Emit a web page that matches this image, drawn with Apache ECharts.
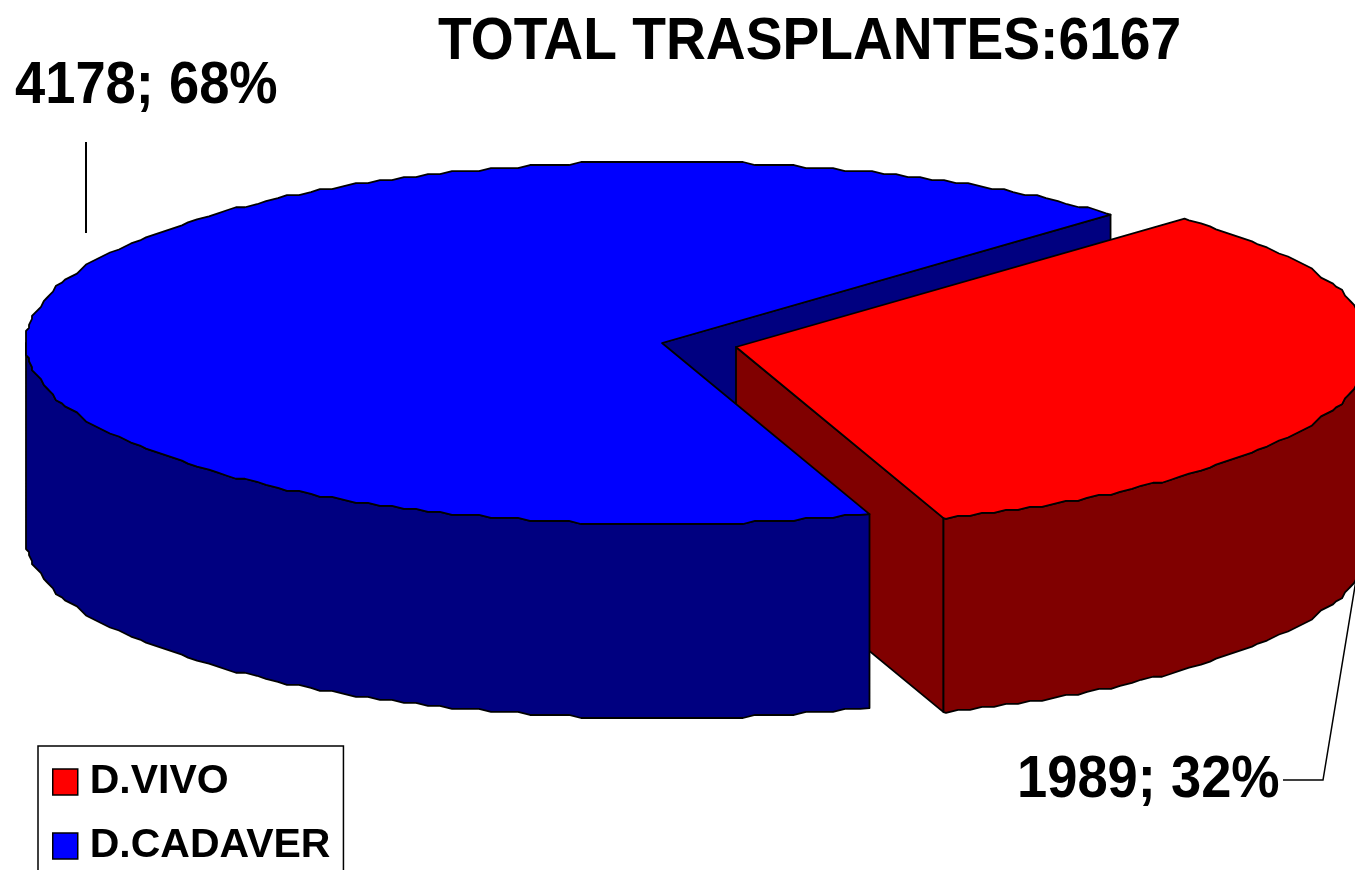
<!DOCTYPE html>
<html>
<head>
<meta charset="utf-8">
<style>html,body{margin:0;padding:0;background:#fff;overflow:hidden}#c{width:1355px;height:870px}</style>
<script src="https://cdn.jsdelivr.net/npm/echarts@6/dist/echarts.min.js"></script>
</head>
<body>
<div id="c"></div>
<script>
// ---- data ----
const categories = ['D.VIVO', 'D.CADAVER'];
const values = [1989, 4178];
const titlePrefix = 'TOTAL TRASPLANTES:';

// ---- pie styling and layout ----
const topColors = ['#ff0000', '#0000ff'];
const sideColors = ['#800000', '#000080'];
const centers = [[736, 347], [662, 343]];
const RX = 636, RY = 181, DEPTH = 194, START = 45.15;
const FONT = 'bold 60px "Liberation Sans", Arial, sans-serif';
const labelPos = [[1017, 780], [15, 86]];
const leaders = [
  [[1283, 780], [1323, 780], [1356, 580]],
  [[86, 142], [86, 233]]
];
const leaderWidths = [1.5, 2];

const total = values.reduce((a, b) => a + b, 0);
const rad = d => d * Math.PI / 180;

// slice angles, clockwise from START
function sliceAngles(i) {
  let a = START;
  for (let k = 0; k < i; k++) a -= values[k] / total * 360;
  return [a, a - values[i] / total * 360];
}
const pt = (c, deg) => [c[0] + RX * Math.cos(rad(deg)), c[1] - RY * Math.sin(rad(deg))];

// clockwise arc from > to, stepped like the low resolution original;
// inner points sit on a shared angle grid so the wall and the top face agree
function arc(c, from, to, dy) {
  const STEP = 1.2, GX = RX / 212, GY = RY / 60;
  const out = [];
  const add = p => out.push([p[0], p[1] + dy]);
  add(pt(c, from));
  for (let k = Math.floor(from / STEP); k * STEP > to; k--) {
    const a = k * STEP;
    if (a >= from) continue;
    const p = pt(c, a);
    add([Math.round((p[0] - c[0]) / GX) * GX + c[0], Math.round((p[1] - c[1]) / GY) * GY + c[1]]);
  }
  add(pt(c, to));
  return out;
}
const stroke = { stroke: '#000', lineWidth: 1.8, lineJoin: 'round' };
const poly = (points, fill, z2) => ({ type: 'polygon', z2, shape: { points }, style: { fill, ...stroke } });

function renderSlice(params, api) {
  const i = params.seriesIndex;
  const [a0, a1] = sliceAngles(i);
  const c = centers[i];
  const top = topColors[i], side = sideColors[i];
  const children = [];
  const base = i === 0 ? 2 : 4;

  // visible cut face: the one at the far end of the slice
  const e = pt(c, a1);
  children.push(poly([c, e, [e[0], e[1] + DEPTH], [c[0], c[1] + DEPTH]], side, i === 1 ? 1 : base));

  // outer wall: only the front half of the ellipse shows
  const wallFrom = a0 > 0 ? 0 : a0;
  const wallTo = a0 > 0 ? a1 : -180;
  const up = arc(c, wallFrom, wallTo, 0);
  const down = arc(c, wallFrom, wallTo, DEPTH).reverse();
  children.push(poly(up.concat(down), side, base));

  // top face
  children.push(poly([c].concat(arc(c, a0, a1, 0)), top, base + 1));

  // value label with leader
  const pct = Math.round(values[i] / total * 100);
  children.push({
    type: 'text', z2: 9, x: labelPos[i][0], y: labelPos[i][1], scaleX: 0.905,
    style: { text: values[i] + '; ' + pct + '%', font: FONT, fill: '#000', textAlign: 'left', textVerticalAlign: 'middle' }
  });
  children.push({
    type: 'polyline', z2: 9, shape: { points: leaders[i] },
    style: { stroke: '#000', lineWidth: leaderWidths[i], fill: 'none' }
  });
  return { type: 'group', children };
}

const chart = echarts.init(document.getElementById('c'), null, { renderer: 'canvas' });
chart.setOption({
  animation: false,
  backgroundColor: '#ffffff',
  graphic: [{
    type: 'text', left: 438, top: 12, scaleX: 0.92, z: 10,
    style: { text: titlePrefix + total, font: FONT, fill: '#000' }
  }],
  legend: {
    orient: 'vertical', left: 38, top: 746, height: 200,
    padding: [12, 13, 24, 14],
    backgroundColor: '#fff',
    borderColor: '#000', borderWidth: 1.5,
    itemWidth: 25, itemHeight: 26, itemGap: 16,
    data: categories,
    selectedMode: false,
    icon: 'rect',
    itemStyle: { borderColor: '#000', borderWidth: 1.5 },
    textStyle: { fontFamily: '"Liberation Sans", Arial, sans-serif', fontWeight: 'bold', fontSize: 41, lineHeight: 48, color: '#000', padding: [0, 0, 0, 7] }
  },
  series: categories.map((name, i) => ({
    type: 'custom',
    name,
    coordinateSystem: 'none',
    itemStyle: { color: topColors[i] },
    silent: true,
    renderItem: renderSlice,
    data: [[values[i]]]
  }))
});
</script>
</body>
</html>
